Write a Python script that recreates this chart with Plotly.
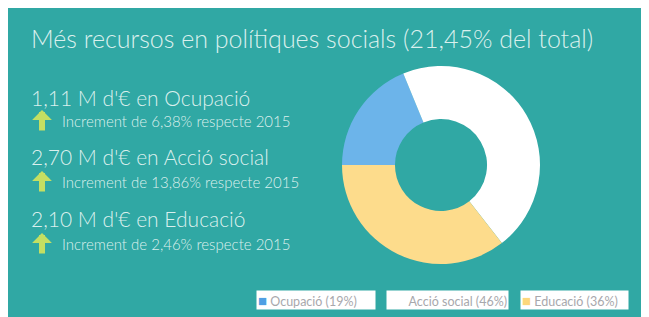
import plotly.graph_objects as go

# page body has an 8px margin; the figure sits inside it
OFF = 8
W, H = 649 - OFF, 317 - OFF

# ---- data ----
categories = ["Ocupació", "Acció social", "Educació"]
amounts_meur = [1.11, 2.70, 2.10]
legend_pct = [19, 46, 36]
increments_pct = ["6,38", "13,86", "2,46"]
amount_labels = ["1,11", "2,70", "2,10"]
slice_colors = ["#6cb4ea", "#ffffff", "#fddc8c"]
swatch_colors = ["#4f9fe3", "#ffffff", "#fdd77a"]
title_text = "Més recursos en polítiques socials (21,45% del total)"

TEAL = "#30a8a4"
TXT = "rgba(235,248,246,0.92)"
FONT = "Lato, 'Open Sans', sans-serif"


def px(x):
    return (x - OFF) / W


def py(y):
    return 1 - (y - OFF) / H


fig = go.Figure()
fig.add_trace(go.Pie(
    labels=categories,
    values=amounts_meur,
    hole=0.465,
    sort=False,
    direction="clockwise",
    rotation=270,
    marker=dict(colors=slice_colors, line=dict(width=0)),
    textinfo="none",
    hoverinfo="label+percent",
    showlegend=False,
    domain=dict(x=[px(342), px(540)], y=[py(264), py(66)]),
))

annotations = []
annotations.append(dict(text=title_text, x=px(29), y=py(38), xref="paper", yref="paper",
                        xanchor="left", yanchor="middle", showarrow=False,
                        font=dict(family=FONT, size=25, color=TXT, weight=300)))

rows_y = [(97, 121), (157, 182), (218, 244)]
for i, cat in enumerate(categories):
    y1, y2 = rows_y[i]
    annotations.append(dict(text=f"{amount_labels[i]} M d'€ en {cat}", x=px(29), y=py(y1),
                            xref="paper", yref="paper", xanchor="left", yanchor="middle",
                            showarrow=False, font=dict(family=FONT, size=21, color=TXT, weight=300)))
    annotations.append(dict(text=f"Increment de {increments_pct[i]}% respecte 2015", x=px(60), y=py(y2),
                            xref="paper", yref="paper", xanchor="left", yanchor="middle",
                            showarrow=False, font=dict(family=FONT, size=15, color=TXT, weight=300)))
    annotations.append(dict(text="", x=px(42), y=py(y2 - 11), xref="paper", yref="paper",
                            showarrow=True, ax=0, ay=22, axref="pixel", ayref="pixel",
                            arrowhead=1, arrowsize=0.55, arrowwidth=6, arrowcolor="#c4df62",
                            standoff=0, startstandoff=0))

box_centers = [316, 447.5, 574.5]
box_widths = [116, 119, 105]
for i, cat in enumerate(categories):
    txt = (f"<span style='color:{swatch_colors[i]};font-size:15px'>■</span> "
           f"{cat} ({legend_pct[i]}%)")
    annotations.append(dict(text=txt, x=px(box_centers[i]), y=py(299.5), xref="paper", yref="paper",
                            xanchor="center", yanchor="middle", showarrow=False,
                            width=box_widths[i], height=16, align="left" if i != 1 else "right",
                            bgcolor="white", borderpad=1,
                            font=dict(family=FONT, size=12.5, color="#a8a8ac")))

fig.update_layout(
    width=W, height=H,
    margin=dict(l=0, r=0, t=0, b=0),
    paper_bgcolor=TEAL,
    plot_bgcolor=TEAL,
    annotations=annotations,
)

fig.write_html("out.html")
